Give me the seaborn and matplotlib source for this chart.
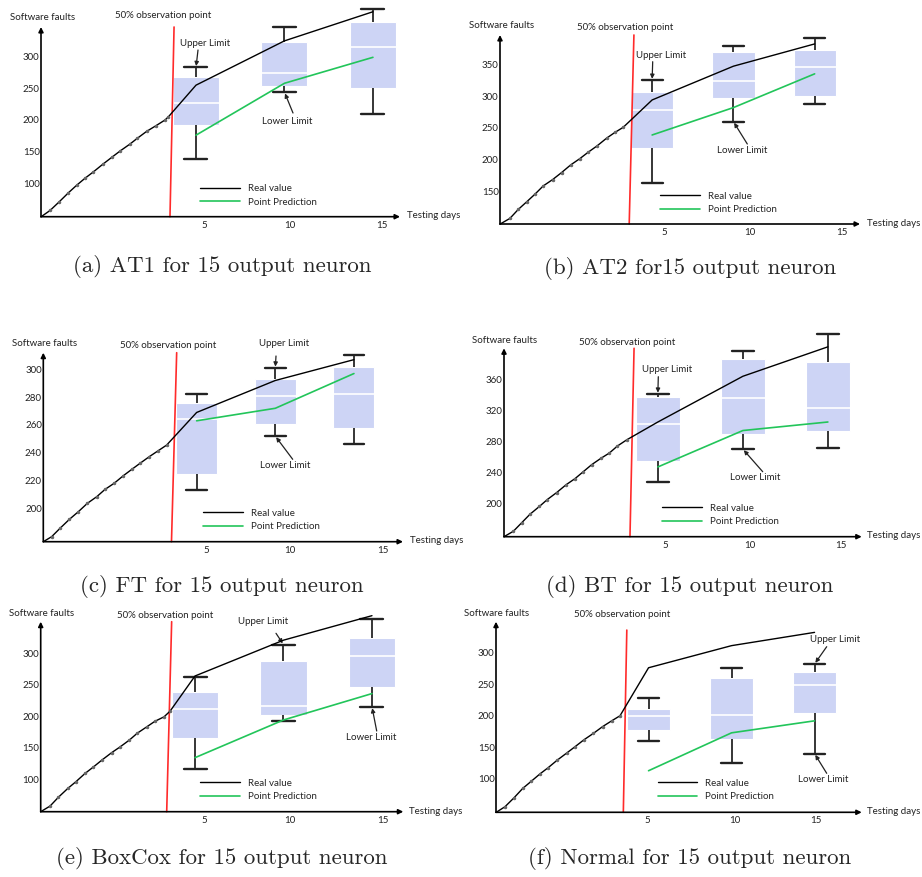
import numpy as np
import pandas as pd
import matplotlib
matplotlib.use("Agg")
import matplotlib.pyplot as plt
from matplotlib.lines import Line2D
import seaborn as sns

sns.set_style("white")
plt.rcParams["font.family"] = ["Lato", "DejaVu Sans"]

W, H = 922, 877

# ---------------------------------------------------------------- data
TEST_DAYS = [5, 10, 15]
XTICK_LABELS = ["5", "10", "15"]
LEGEND_LABELS = ["Real value", "Point Prediction"]

CAPTIONS = [
    "(a) AT1 for 15 output neuron",
    "(b) AT2 for15 output neuron",
    "(c) FT for 15 output neuron",
    "(d) BT for 15 output neuron",
    "(e) BoxCox for 15 output neuron",
    "(f) Normal for 15 output neuron",
]

# (a) AT1
AT1_TRAIN_DAYS = [-3.76, -3.25, -2.72, -2.21, -1.74, -1.27, -0.80, -0.27, 0.24, 0.71, 1.27, 1.68, 2.21, 2.74, 3.25, 3.44]
AT1_TRAIN_FAULTS = [47, 57, 71, 85, 97, 108, 118, 130, 141, 151, 162, 171, 182, 191, 200, 205]
AT1_REAL = [255, 325, 371]
AT1_PRED = [176, 258, 299]
AT1_BOXES = [[138, 192, 227, 268, 283], [244, 253, 275, 323, 347], [210, 251, 316, 355, 375]]
AT1_YTICKS = [100, 150, 200, 250, 300]

# (b) AT2
AT2_TRAIN_DAYS = [-4.36, -3.75, -3.24, -2.72, -2.21, -1.70, -1.12, -0.57, -0.01, 0.56, 1.07, 1.62, 2.20, 2.71, 3.22]
AT2_TRAIN_FAULTS = [99, 108, 122, 134, 146, 159, 169, 180, 192, 202, 212, 222, 234, 243, 251]
AT2_REAL = [294, 347, 382]
AT2_PRED = [239, 282, 335]
AT2_BOXES = [[164, 218, 279, 306, 325], [260, 297, 324, 370, 379], [288, 300, 346, 373, 391]]
AT2_YTICKS = [150, 200, 250, 300, 350]

# (c) FT
FT_TRAIN_DAYS = [-4.75, -4.22, -3.69, -3.09, -2.52, -1.95, -1.35, -0.83, -0.25, 0.34, 0.87, 1.40, 1.99, 2.56, 3.09]
FT_TRAIN_FAULTS = [176, 179.6, 185.6, 192.1, 197.6, 203.6, 208.4, 213.6, 218, 223.5, 228, 232.4, 237.2, 241.5, 245.5]
FT_REAL = [269, 292, 307]
FT_PRED = [263, 272, 297]
FT_BOXES = [[213, 225, 264, 276, 282], [252, 261, 281, 293, 301], [246, 258, 282, 302, 310]]
FT_YTICKS = [200, 220, 240, 260, 280, 300]

# (d) BT
BT_TRAIN_DAYS = [-4.05, -3.50, -3.01, -2.52, -1.97, -1.50, -0.95, -0.40, 0.13, 0.62, 1.11, 1.64, 2.15, 2.62, 3.17]
BT_TRAIN_FAULTS = [157, 164, 175, 186, 196, 205, 214, 224, 232, 241, 250, 258, 265, 274, 282]
BT_REAL = [305, 364, 402]
BT_PRED = [247, 294, 305]
BT_BOXES = [[227, 255, 303, 337, 341], [270, 290, 336, 386, 396], [272, 293, 323, 382, 418]]
BT_YTICKS = [200, 240, 280, 320, 360]

# (e) BoxCox
BOXCOX_TRAIN_DAYS = [-3.72, -3.19, -2.72, -2.19, -1.72, -1.21, -0.75, -0.27, 0.29, 0.76, 1.29, 1.74, 2.27, 2.74, 3.25, 3.59]
BOXCOX_TRAIN_FAULTS = [48, 57, 71, 85, 96, 109, 119, 130, 142, 151, 162, 173, 183, 192, 199, 208]
BOXCOX_REAL = [264, 321, 360]
BOXCOX_PRED = [134, 194, 236]
BOXCOX_BOXES = [[116, 165, 211, 239, 263], [192, 202, 216, 288, 314], [215, 247, 296, 324, 355]]
BOXCOX_YTICKS = [100, 150, 200, 250, 300]

# (f) Normal
NORMAL_TRAIN_DAYS = [-4.19, -3.65, -3.11, -2.58, -2.08, -1.54, -1.04, -0.49, 0.07, 0.57, 1.11, 1.67, 2.24, 2.78, 3.28]
NORMAL_TRAIN_FAULTS = [47, 56, 70, 85, 96, 108, 118, 130, 141, 151, 162, 172, 183, 192, 200]
NORMAL_REAL = [276, 311, 332]
NORMAL_PRED = [113, 173, 192]
NORMAL_BOXES = [[160, 178, 199, 210, 228], [125, 163, 202, 259, 275], [140, 205, 249, 270, 282]]
NORMAL_YTICKS = [100, 150, 200, 250, 300]

PANEL_DATA = [
    (AT1_TRAIN_DAYS, AT1_TRAIN_FAULTS, AT1_REAL, AT1_PRED, AT1_BOXES, AT1_YTICKS),
    (AT2_TRAIN_DAYS, AT2_TRAIN_FAULTS, AT2_REAL, AT2_PRED, AT2_BOXES, AT2_YTICKS),
    (FT_TRAIN_DAYS, FT_TRAIN_FAULTS, FT_REAL, FT_PRED, FT_BOXES, FT_YTICKS),
    (BT_TRAIN_DAYS, BT_TRAIN_FAULTS, BT_REAL, BT_PRED, BT_BOXES, BT_YTICKS),
    (BOXCOX_TRAIN_DAYS, BOXCOX_TRAIN_FAULTS, BOXCOX_REAL, BOXCOX_PRED, BOXCOX_BOXES, BOXCOX_YTICKS),
    (NORMAL_TRAIN_DAYS, NORMAL_TRAIN_FAULTS, NORMAL_REAL, NORMAL_PRED, NORMAL_BOXES, NORMAL_YTICKS),
]

# ---------------------------------------------------------------- layout (pixels, origin top-left)
# rect: axis frame (left, top, right, bottom); xlim/ylim: data range of that frame
# obs: observation line x at bottom / top, and its top as axes fraction
# up/lo: (box index, label centre, arrow start)
LAYOUT = [
    dict(rect=(41, 27, 400, 216.7), xlim=(-3.76, 16.53), ylim=(47.2, 346.9),
         xticks=[5.45, 10.31, 15.51], obs=(3.53, 3.76, 1.0),
         up=(0, (205, 43), (198, 50)), lo=(1, (287, 121), (293, 113)),
         legend=(200, 195.5), ylab=(43, 18), obslab=(163, 16), xlab=(407, 216),
         caption=(222, 266)),
    dict(rect=(500, 35, 860, 224), xlim=(-4.36, 17.79), ylim=(99.2, 396.0),
         xticks=[5.73, 10.98, 16.66], obs=(3.59, 3.88, 1.0),
         up=(0, (661, 56), (652.7, 61.7)), lo=(1, (741.7, 150.7), (747.3, 144)),
         legend=(660, 203), ylab=(502, 26), obslab=(625, 27), xlab=(867.3, 224),
         caption=(690, 268)),
    dict(rect=(43.3, 352.7, 403, 541.7), xlim=(-4.75, 18.12), ylim=(176.0, 312.0),
         xticks=[5.59, 10.93, 16.85], obs=(3.40, 3.73, 1.0),
         up=(1, (284, 343.3), (276, 356)), lo=(1, (285, 466), (292.7, 459.3)),
         legend=(203, 520), ylab=(44.3, 344), obslab=(167.7, 345), xlab=(410, 540.7),
         caption=(222, 587)),
    dict(rect=(504, 348.3, 861.7, 536.7), xlim=(-4.05, 16.99), ylim=(157.0, 400.1),
         xticks=[5.42, 10.42, 15.76], obs=(3.36, 3.60, 1.0),
         up=(0, (666.7, 370), (658.3, 376.7)), lo=(1, (755, 477.3), (762.7, 471.7)),
         legend=(662, 515), ylab=(505, 340.7), obslab=(626.7, 342.3), xlab=(867.3, 536),
         caption=(690, 587)),
    dict(rect=(40.7, 621.7, 403.3, 811.7), xlim=(-3.72, 16.77), ylim=(48.0, 350.4),
         xticks=[5.51, 10.37, 15.6], obs=(3.40, 3.68, 1.0),
         up=(1, (262.7, 621.7), (276, 633.3)), lo=(2, (370.7, 737.3), (376.7, 731)),
         legend=(200, 790), ylab=(41.7, 613.3), obslab=(165, 615), xlab=(409, 811.7),
         caption=(222, 858)),
    dict(rect=(496, 621.7, 861.7, 812.3), xlim=(-4.19, 17.84), ylim=(47.2, 348.9),
         xticks=[4.93, 10.21, 15.09], obs=(3.48, 3.69, 0.956),
         up=(2, (835, 639.3), (826.7, 646.7)), lo=(2, (823.3, 780), (826.7, 773.3)),
         legend=(657.5, 790), ylab=(496.7, 613.3), obslab=(621.7, 614.3), xlab=(866.7, 811.7),
         caption=(690, 858)),
]

BOX_FACE = "#cdd4f5"
GREEN = "#22c55a"
RED = "#ff2b2b"
INK = "#222222"
SMALL = 7.0


def fx(x):
    return x / W


def fy(y):
    return 1 - y / H


fig = plt.figure(figsize=(W / 100, H / 100), dpi=100)

for (tdays, tfaults, real, pred, boxes, yticks), spec, caption in zip(PANEL_DATA, LAYOUT, CAPTIONS):
    L, T, R, B = spec["rect"]
    ax = fig.add_axes([fx(L), fy(B), (R - L) / W, (B - T) / H])

    # prediction intervals as box plots (whiskers span the full range)
    df = pd.DataFrame({"day": np.repeat(TEST_DAYS, 5),
                       "faults": np.concatenate(boxes)})
    sns.boxplot(data=df, x="day", y="faults", native_scale=True, width=0.52,
                whis=(0, 100), color=BOX_FACE, saturation=1, linecolor="black",
                showfliers=False, ax=ax,
                boxprops=dict(edgecolor="white", linewidth=0.8),
                medianprops=dict(color="white", linewidth=1.2),
                whiskerprops=dict(color="black", linewidth=1.1),
                capprops=dict(color=INK, linewidth=1.7))

    # real fault counts: observed part with dots, then the test days
    n = len(tdays)
    sns.lineplot(x=list(tdays) + TEST_DAYS, y=list(tfaults) + list(real), ax=ax,
                 sort=False, estimator=None, color="black", lw=1.0,
                 marker=".", ms=3.5, mfc="#666666", mec="#666666",
                 markevery=list(range(1, n)), zorder=4)
    sns.lineplot(x=TEST_DAYS, y=pred, ax=ax, sort=False, estimator=None,
                 color=GREEN, lw=1.2, zorder=4)

    # 50% observation line
    b_x, t_x, t_frac = spec["obs"]
    ax.plot([b_x, t_x], [0, t_frac], transform=ax.get_xaxis_transform(),
            color=RED, lw=1.2, zorder=3)

    ax.set_xlim(*spec["xlim"])
    ax.set_ylim(*spec["ylim"])
    ax.set(xlabel="", ylabel="")
    for s in ax.spines.values():
        s.set_visible(False)
    ax.set_xticks(spec["xticks"], XTICK_LABELS)
    ax.set_yticks(yticks, [str(v) for v in yticks])
    ax.tick_params(axis="both", length=0, labelsize=SMALL, labelcolor=INK)
    ax.tick_params(axis="x", pad=3.0)
    ax.tick_params(axis="y", pad=1.0)

    # axis arrows
    arrow = dict(arrowstyle="-|>", color="black", lw=1.2, mutation_scale=7,
                 shrinkA=0, shrinkB=0)
    ax.annotate("", xy=(1, 0), xytext=(0, 0), xycoords="axes fraction", arrowprops=arrow)
    ax.annotate("", xy=(0, 1), xytext=(0, 0), xycoords="axes fraction", arrowprops=arrow)

    # limit call-outs
    for key, label, which in (("up", "Upper Limit", 4), ("lo", "Lower Limit", 0)):
        idx, (tx, ty), (sx, sy) = spec[key]
        fig.text(fx(tx), fy(ty), label, ha="center", va="center", fontsize=SMALL, color=INK)
        ax.annotate("", xy=(TEST_DAYS[idx], boxes[idx][which]), xycoords="data",
                    xytext=(fx(sx), fy(sy)), textcoords="figure fraction",
                    arrowprops=dict(arrowstyle="-|>", color=INK, lw=0.9,
                                    mutation_scale=6, shrinkA=0, shrinkB=1))

    handles = [Line2D([], [], color="black", lw=1.0), Line2D([], [], color=GREEN, lw=1.2)]
    lx, ly = spec["legend"]
    ax.legend(handles, LEGEND_LABELS, loc="center left",
              bbox_to_anchor=(fx(lx), fy(ly)), bbox_transform=fig.transFigure,
              frameon=False, fontsize=SMALL, handlelength=4.1, handletextpad=0.8,
              labelspacing=0.45, borderpad=0, borderaxespad=0)

    fig.text(fx(spec["ylab"][0]), fy(spec["ylab"][1]), "Software faults",
             ha="center", va="center", fontsize=SMALL, color=INK)
    fig.text(fx(spec["obslab"][0]), fy(spec["obslab"][1]), "50% observation point",
             ha="center", va="center", fontsize=SMALL, color=INK)
    fig.text(fx(spec["xlab"][0]), fy(spec["xlab"][1]), "Testing days",
             ha="left", va="center", fontsize=SMALL, color=INK)
    fig.text(fx(spec["caption"][0]), fy(spec["caption"][1]), caption,
             ha="center", va="center", fontsize=16.5, family=["cmr10", "DejaVu Serif"])

    for art in ax.get_children():
        try:
            art.set_clip_on(False)
        except Exception:
            pass

fig.savefig("out.png", dpi=100)
